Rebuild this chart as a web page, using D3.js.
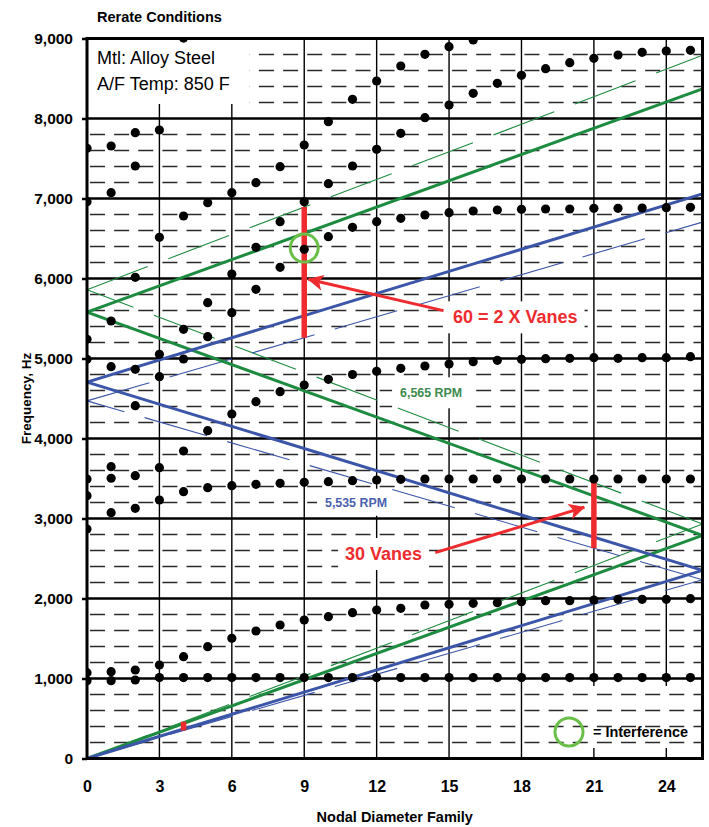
<!DOCTYPE html>
<html>
<head>
<meta charset="utf-8">
<script src="https://cdn.jsdelivr.net/npm/d3@7"></script>
<style>
  body { margin: 0; background: #fff; }
  svg { display: block; font-family: Arial, "Liberation Sans", sans-serif; }
</style>
</head>
<body>
<div class="container"></div>
<script>
// nodal diameter families 0..25, frequency in Hz (null = no point)
const nds = d3.range(0, 26);
const mode1 = [973, 973, 981, 1012, 1012, 1012, 1012, 1012, 1012, 1012, 1012, 1012, 1012, 1012, 1012, 1012, 1012, 1012, 1012, 1012, 1012, 1012, 1012, 1012, 1012, 1012];
const mode2 = [1073, 1085, 1106, 1169, 1273, 1398, 1502, 1594, 1669, 1731, 1773, 1823, 1856, 1877, 1919, 1927, 1940, 1948, 1960, 1973, 1973, 1981, 1990, 1990, 1990, 1998];
const mode3 = [2869, 3073, 3127, 3231, 3335, 3385, 3410, 3427, 3440, 3452, 3460, 3473, 3481, 3490, 3494, 3494, 3494, 3494, 3494, 3494, 3494, 3494, 3494, 3494, 3494, 3494];
const mode4 = [3285, 3503, 3535, 3635, 3844, 4098, 4306, 4460, 4585, 4669, 4740, 4800, 4840, 4877, 4906, 4931, 4960, 4977, 4990, 4998, 5002, 5010, 5002, 5010, 5010, 5023];
const mode5 = [3494, 3648, 4410, 4773, 4994, 5273, 5573, 5865, 6140, 6365, 6523, 6640, 6710, 6752, 6794, 6823, 6844, 6856, 6865, 6869, 6869, 6877, 6877, 6881, 6885, 6890];
const mode6 = [4990, 4898, 4865, 5052, 5365, 5698, 6056, 6390, 6710, 6960, 7185, 7406, 7615, 7815, 8010, 8169, 8315, 8440, 8540, 8623, 8698, 8752, 8794, 8827, 8844, 8852];
const mode7 = [5240, 5469, 6015, 6515, 6781, 6948, 7073, 7198, 7398, 7669, 7960, 8240, 8469, 8656, 8802, 8898, 8981, null, null, null, null, null, null, null, null, null];
const mode8 = [6960, 7073, 7406, null, null, null, null, null, null, null, null, null, null, null, null, null, null, null, null, null, null, null, null, null, null, null];
const mode9 = [7627, 7656, 7823, 7856, 9005, null, null, null, null, null, null, null, null, null, null, null, null, null, null, null, null, null, null, null, null, null];
const modes = [mode1, mode2, mode3, mode4, mode5, mode6, mode7, mode8, mode9];

// engine order lines, vertices [nodal diameter, Hz]
const line5535 = [[0, 0], [25.5, 2352], [0, 4705], [25.5, 7057]];
const line5535margin = [[0, 0], [25.5, 2235], [0, 4470], [25.5, 6705]];
const line6565 = [[0, 0], [25.5, 2790], [0, 5580], [25.5, 8370]];
const line6565margin = [[0, 0], [25.5, 2930], [0, 5860], [25.5, 8790]];

// excitation ranges (red bars) and interference
const redBars = [
  { nd: 4, lo: 350, hi: 460 },
  { nd: 9, lo: 5258, hi: 6893 },
  { nd: 21, lo: 2629, hi: 3447 },
];
const interference = [{ nd: 9, f: 6380 }];

const xTicks = [0, 3, 6, 9, 12, 15, 18, 21, 24];
const yTicks = d3.range(0, 9001, 1000);
const yMinor = d3.range(200, 9000, 200).filter((v) => v % 1000 !== 0);

const green = "#1e8c40";
const blue = "#3b55a8";
const red = "#ee2b2e";
const lightGreen = "#6abf48";

const width = 709;
const height = 827;

const svg = d3
  .select(".container")
  .append("svg")
  .attr("width", width)
  .attr("height", height);

const x = d3.scaleLinear([0, 25.5], [87, 702.5]);
const y = d3.scaleLinear([0, 9000], [758.5, 38.5]);

// layers
const gVert = svg.append("g");
const gLegendBox = svg.append("g");
const gHoriz = svg.append("g");
const gBoxes = svg.append("g");
const gLines = svg.append("g");
const gBars = svg.append("g");
const gDots = svg.append("g").attr("clip-path", "url(#plotclip)");
const gMarks = svg.append("g");
const gText = svg.append("g");
const gAxes = svg.append("g");

svg
  .append("defs")
  .append("clipPath")
  .attr("id", "plotclip")
  .append("rect")
  .attr("x", x(0))
  .attr("y", y(9000) - 1.5)
  .attr("width", x(25.5) - x(0))
  .attr("height", y(0) - y(9000) + 1.5);

svg
  .select("defs")
  .append("marker")
  .attr("id", "arrowhead")
  .attr("markerUnits", "userSpaceOnUse")
  .attr("viewBox", "0 -8 16 16")
  .attr("refX", 15)
  .attr("refY", 0)
  .attr("markerWidth", 16)
  .attr("markerHeight", 16)
  .attr("orient", "auto")
  .append("path")
  .attr("fill", red)
  .attr("d", "M0,-8L16,0L0,8L4,0Z");

// vertical grid lines
gVert
  .selectAll("line")
  .data(xTicks.filter((d) => d > 0))
  .join("line")
  .attr("x1", (d) => x(d))
  .attr("x2", (d) => x(d))
  .attr("y1", y(9000))
  .attr("y2", y(0))
  .attr("stroke", "#000")
  .attr("stroke-width", 1.4);

// minor dashed lines
gHoriz
  .selectAll("line.minor")
  .data(yMinor)
  .join("line")
  .attr("class", "minor")
  .attr("x1", x(0) + 3)
  .attr("x2", x(25.5))
  .attr("y1", (d) => y(d))
  .attr("y2", (d) => y(d))
  .attr("stroke", "#2a2a2a")
  .attr("stroke-width", 1.6)
  .attr("stroke-dasharray", `15,${x(1) - x(0) - 15}`);

gHoriz
  .selectAll("line.major")
  .data(yTicks.filter((d) => d > 0 && d < 9000))
  .join("line")
  .attr("class", "major")
  .attr("x1", x(0))
  .attr("x2", x(25.5))
  .attr("y1", (d) => y(d))
  .attr("y2", (d) => y(d))
  .attr("stroke", "#000")
  .attr("stroke-width", 2.5);

// order lines: each leg drawn separately from its starting vertex
function legs(pts) {
  return d3.range(pts.length - 1).map((i) => [pts[i], pts[i + 1]]);
}
const lineGen = d3
  .line()
  .x((d) => x(d[0]))
  .y((d) => y(d[1]));

const orderLines = [
  { pts: line6565margin, color: green, w: 1.1, dash: "65,22" },
  { pts: line5535margin, color: blue, w: 1.1, dash: "65,21" },
  { pts: line6565, color: green, w: 3, dash: null },
  { pts: line5535, color: blue, w: 3, dash: null },
];
orderLines.forEach((l) => {
  gLines
    .append("g")
    .selectAll("path")
    .data(legs(l.pts))
    .join("path")
    .attr("d", lineGen)
    .attr("fill", "none")
    .attr("stroke", l.color)
    .attr("stroke-width", l.w)
    .attr("stroke-dasharray", l.dash);
});

// red excitation bars
gBars
  .selectAll("line")
  .data(redBars)
  .join("line")
  .attr("x1", (d) => x(d.nd))
  .attr("x2", (d) => x(d.nd))
  .attr("y1", (d) => y(d.lo))
  .attr("y2", (d) => y(d.hi))
  .attr("stroke", red)
  .attr("stroke-width", 5.5);

// mode shape points
const points = modes.flatMap((m) =>
  nds.map((nd, i) => ({ nd, f: m[i] })).filter((d) => d.f != null)
);
gDots
  .selectAll("circle")
  .data(points)
  .join("circle")
  .attr("cx", (d) => x(d.nd))
  .attr("cy", (d) => y(d.f))
  .attr("r", 4.6)
  .attr("fill", "#000");

gMarks
  .selectAll("circle")
  .data(interference)
  .join("circle")
  .attr("cx", (d) => x(d.nd))
  .attr("cy", (d) => y(d.f))
  .attr("r", 14)
  .attr("fill", "none")
  .attr("stroke", lightGreen)
  .attr("stroke-width", 3);

// arrows
const arrows = [
  { from: [14.77, 5598], to: [9.17, 5990] },
  { from: [14.43, 2573], to: [20.6, 3140] },
];
gMarks
  .selectAll("line")
  .data(arrows)
  .join("line")
  .attr("x1", (d) => x(d.from[0]))
  .attr("y1", (d) => y(d.from[1]))
  .attr("x2", (d) => x(d.to[0]))
  .attr("y2", (d) => y(d.to[1]))
  .attr("stroke", red)
  .attr("stroke-width", 3)
  .attr("marker-end", "url(#arrowhead)");

// text with a white box under it (box goes below data)
function boxedText(tx, ty, str, opts, pad) {
  const t = gText
    .append("text")
    .attr("x", tx)
    .attr("y", ty)
    .attr("fill", opts.fill || "#000")
    .attr("font-size", opts.size)
    .attr("font-weight", opts.weight || "bold")
    .text(str);
  if (opts.len) t.attr("textLength", opts.len).attr("lengthAdjust", "spacingAndGlyphs");
  if (pad) {
    const b = t.node().getBBox();
    gBoxes
      .append("rect")
      .attr("x", b.x - pad[0])
      .attr("y", b.y - pad[1])
      .attr("width", b.width + 2 * pad[0])
      .attr("height", b.height + 2 * pad[1])
      .attr("fill", "#fff");
  }
  return t;
}

boxedText(x(15.16), y(5440), "60 = 2 X Vanes", { fill: red, size: 18 }, [7, 6]);
boxedText(x(10.69), y(2481), "30 Vanes", { fill: red, size: 18 }, [7, 6]);
boxedText(x(12.97), y(4515), "6,565 RPM", { fill: "#3d8b4f", size: 13, len: 62 }, [8, 8]);
boxedText(x(9.86), y(3147), "5,535 RPM", { fill: "#4a5fb0", size: 13, len: 62 }, [8, 6]);

// material box, top-left of plot
const m1 = boxedText(x(0) + 10, y(9000) + 25.5, "Mtl: Alloy Steel", { size: 18, weight: "normal" });
const m2 = boxedText(x(0) + 10, y(9000) + 51.5, "A/F Temp: 850 F", { size: 18, weight: "normal" });
const mb1 = m1.node().getBBox();
const mb2 = m2.node().getBBox();
gBoxes
  .append("rect")
  .attr("x", x(0))
  .attr("y", y(9000))
  .attr("width", Math.max(mb1.x + mb1.width, mb2.x + mb2.width) + 20 - x(0))
  .attr("height", mb2.y + mb2.height + 10 - y(9000))
  .attr("fill", "#fff");

// interference legend; its box hides only the vertical lines
const legX = 569;
const legY = 732;
gLegendBox
  .append("rect")
  .attr("x", legX - 39)
  .attr("y", legY - 46)
  .attr("width", x(25.5) - 3 - (legX - 39))
  .attr("height", 62)
  .attr("fill", "#fff");
gMarks
  .append("circle")
  .attr("cx", legX)
  .attr("cy", legY)
  .attr("r", 14)
  .attr("fill", "none")
  .attr("stroke", lightGreen)
  .attr("stroke-width", 3);
boxedText(legX + 24, legY + 4.7, "= Interference", { size: 15, len: 95 });

// title
gText
  .append("text")
  .attr("x", 97)
  .attr("y", 21.5)
  .attr("font-size", 14.5)
  .attr("font-weight", "bold")
  .text("Rerate Conditions");

// axes
const yAxis = gAxes
  .append("g")
  .attr("transform", `translate(${x(0)},0)`)
  .call(
    d3
      .axisLeft(y)
      .tickValues(yTicks)
      .tickFormat(d3.format(","))
      .tickSize(5)
      .tickPadding(9)
  );
yAxis.select(".domain").remove();
yAxis.selectAll("line").attr("stroke", "#000").attr("stroke-width", 2.5);
yAxis.selectAll("text").attr("font-size", 15.5).attr("font-weight", "bold").attr("fill", "#000");

const xAxis = gAxes
  .append("g")
  .attr("transform", `translate(0,${y(0)})`)
  .call(d3.axisBottom(x).tickValues(xTicks).tickSize(0).tickPadding(22));
xAxis.select(".domain").remove();
xAxis.selectAll("text").attr("font-size", 16).attr("font-weight", "bold").attr("fill", "#000");

// plot frame
gAxes
  .append("rect")
  .attr("x", x(0))
  .attr("y", y(9000))
  .attr("width", x(25.5) - x(0))
  .attr("height", y(0) - y(9000))
  .attr("fill", "none")
  .attr("stroke", "#000")
  .attr("stroke-width", 3);

gAxes
  .append("text")
  .attr("x", (x(0) + x(25.5)) / 2)
  .attr("y", 822)
  .attr("text-anchor", "middle")
  .attr("font-size", 14.5)
  .attr("font-weight", "bold")
  .text("Nodal Diameter Family");

gAxes
  .append("text")
  .attr("transform", `translate(31,${(y(0) + y(9000)) / 2}) rotate(-90)`)
  .attr("text-anchor", "middle")
  .attr("font-size", 13.5)
  .attr("font-weight", "bold")
  .text("Frequency, Hz");
</script>
</body>
</html>
